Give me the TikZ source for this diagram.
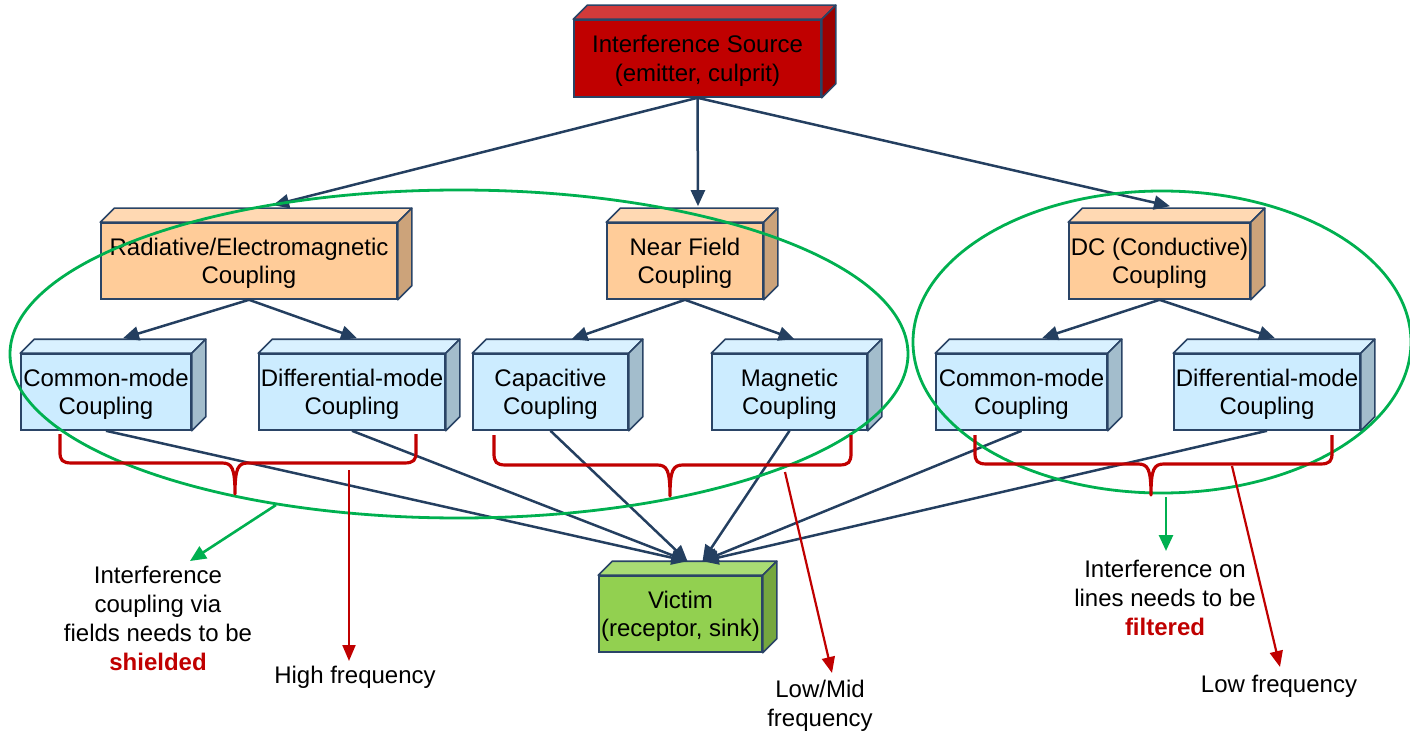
\documentclass[tikz,border=0pt]{standalone}
\usepackage{fontspec}
\setmainfont{Liberation Sans}
\usetikzlibrary{arrows.meta,calc}
\definecolor{bord}{HTML}{2A4466}
\definecolor{conn}{HTML}{243F60}
\definecolor{srcF}{HTML}{C00000}
\definecolor{srcT}{HTML}{D23A3A}
\definecolor{srcS}{HTML}{9C0000}
\definecolor{orF}{HTML}{FFCC99}
\definecolor{orT}{HTML}{FFD9B3}
\definecolor{orS}{HTML}{CCA37A}
\definecolor{blF}{HTML}{CCECFF}
\definecolor{blT}{HTML}{D9F1FF}
\definecolor{blS}{HTML}{A3BDCC}
\definecolor{vicF}{HTML}{92D050}
\definecolor{vicT}{HTML}{A9DC74}
\definecolor{vicS}{HTML}{75A73F}
\definecolor{grn}{HTML}{00B050}
\definecolor{rd}{HTML}{C00000}
\newcommand\boxfaces[3]{%
  \filldraw[fill=#2,draw=bord,line width=0.8pt,line join=round] (#1.north west) -- ++(14,-14) -- ($(#1.north east)+(14,-14)$) -- (#1.north east) -- cycle;
  \filldraw[fill=#3,draw=bord,line width=0.8pt,line join=round] (#1.north east) -- ++(14,-14) -- ($(#1.south east)+(14,-14)$) -- (#1.south east) -- cycle;
}
\tikzset{
  front/.style={draw=bord,line width=0.8pt,inner sep=0pt,align=center,minimum height=38pt,
    font=\fontsize{12}{14.3}\selectfont,text depth=0pt,yshift=0pt},
  conn/.style={draw=conn,line width=1.25pt,-{Triangle[length=8pt,width=7pt]}},
  redarr/.style={draw=rd,line width=1.1pt,-{Triangle[length=8pt,width=6.5pt]}},
  grnarr/.style={draw=grn,line width=1.3pt,-{Triangle[length=8pt,width=7pt]}},
  brace/.style={draw=rd,line width=1.6pt,line join=round},
  ring/.style={draw=grn,line width=1.4pt},
  lbl/.style={align=center,inner sep=0pt,font=\fontsize{12}{14.5}\selectfont}
}
\begin{document}
\begin{tikzpicture}[x=0.5pt,y=-0.5pt]
\useasboundingbox (0,0) rectangle (1410,733);
% boxes
\node[front,fill=srcF,minimum width=123.5pt,minimum height=38.5pt] (src) at (697.5,58.5) {Interference Source\\(emitter, culprit)};
\boxfaces{src}{srcT}{srcS}
\node[front,fill=orF,minimum width=148pt] (rad) at (249,261) {Radiative/Electromagnetic\\Coupling};
\boxfaces{rad}{orT}{orS}
\node[front,fill=orF,minimum width=78pt] (near) at (685,261) {Near Field\\Coupling};
\boxfaces{near}{orT}{orS}
\node[front,fill=orF,minimum width=90.5pt] (dc) at (1159.5,261) {DC (Conductive)\\Coupling};
\boxfaces{dc}{orT}{orS}
\node[front,fill=blF,minimum width=85pt] (cm1) at (106,392) {Common-mode\\Coupling};
\boxfaces{cm1}{blT}{blS}
\node[front,fill=blF,minimum width=93pt] (dm1) at (352,392) {Differential-mode\\Coupling};
\boxfaces{dm1}{blT}{blS}
\node[front,fill=blF,minimum width=77.5pt] (cap) at (550.5,392) {Capacitive\\Coupling};
\boxfaces{cap}{blT}{blS}
\node[front,fill=blF,minimum width=77.5pt] (mag) at (789.5,392) {Magnetic\\Coupling};
\boxfaces{mag}{blT}{blS}
\node[front,fill=blF,minimum width=85.5pt] (cm2) at (1021.5,392) {Common-mode\\Coupling};
\boxfaces{cm2}{blT}{blS}
\node[front,fill=blF,minimum width=93pt] (dm2) at (1267,392) {Differential-mode\\Coupling};
\boxfaces{dm2}{blT}{blS}
\node[front,fill=vicF,minimum width=81.5pt] (vic) at (680.5,614) {Victim\\(receptor, sink)};
\boxfaces{vic}{vicT}{vicS}
% connectors
\draw[conn] (src.south) -- ($(rad.north)+(24,-17)$);
\draw[conn] (src.south) -- ($(near.north)+(13,-16)$);
\draw[conn] (src.south) -- ($(dc.north)+(10.5,-16)$);
\draw[conn] (rad.south) -- ($(cm1.north)+(17,-15)$);
\draw[conn] (rad.south) -- ($(dm1.north)+(5,-15)$);
\draw[conn] (near.south) -- ($(cap.north)+(21,-14)$);
\draw[conn] (near.south) -- ($(mag.north)+(5,-14)$);
\draw[conn] (dc.south) -- ($(cm2.north)+(20.5,-15)$);
\draw[conn] (dc.south) -- ($(dm2.north)+(8,-15)$);
\draw[conn] (cm1.south) -- ($(vic.north)+(7,-14)$);
\draw[conn] (dm1.south) -- ($(vic.north)+(7,-14)$);
\draw[conn] (cap.south) -- ($(vic.north)+(7,-14)$);
\draw[conn] (mag.south) -- ($(vic.north)+(22,-14)$);
\draw[conn] (cm2.south) -- ($(vic.north)+(22,-14)$);
\draw[conn] (dm2.south) -- ($(vic.north)+(22,-14)$);
% green ellipses
\draw[ring] (459,354) ellipse [x radius=224.5pt, y radius=82pt];
\draw[ring] (1162,342) ellipse [x radius=124.5pt, y radius=75.5pt];
% braces
\draw[brace] (60,434) -- (60,452) .. controls (60,460) and (62,463) .. (72,463) -- (222,463)
  .. controls (232,463) and (235,468) .. (235,494) .. controls (235,468) and (238,463) .. (248,463)
  -- (404,463) .. controls (414,463) and (416,460) .. (416,452) -- (416,434);
\draw[brace] (494,435) -- (494,453) .. controls (494,462) and (496,465) .. (506,465) -- (657,465)
  .. controls (667,465) and (670,470) .. (670,496) .. controls (670,470) and (673,465) .. (683,465)
  -- (839,465) .. controls (849,465) and (851,462) .. (851,453) -- (851,435);
\draw[brace] (975,435) -- (975,453) .. controls (975,461) and (977,464) .. (987,464) -- (1138,464)
  .. controls (1148,464) and (1151,469) .. (1151,495) .. controls (1151,469) and (1154,464) .. (1164,464)
  -- (1320,464) .. controls (1330,464) and (1332,461) .. (1332,453) -- (1332,435);
% labels
\node[lbl] (shield) at (158,618.5) {Interference\\coupling via\\fields needs to be\\\textbf{\color{rd}shielded}};
\node[lbl] (hf) at (355,677) {High frequency};
\node[lbl] (lm) at (820,706) {Low/Mid\\frequency};
\node[lbl] (filt) at (1165,598) {Interference on\\lines needs to be\\\textbf{\color{rd}filtered}};
\node[lbl] (lf) at (1279,686) {Low frequency};
% coordinates for free ends
\coordinate (g1s) at (276,505);
\coordinate (g1e) at (190,561);
\coordinate (g2s) at (1166,497);
\coordinate (g2e) at (1166,551);
\coordinate (r1s) at (349,470);
\coordinate (r1e) at (349,661);
\coordinate (r2s) at (785,472);
\coordinate (r2e) at (832,673);
\coordinate (r3s) at (1232,466);
\coordinate (r3e) at (1280,667);
\draw[grnarr] (g1s) -- (g1e);
\draw[grnarr] (g2s) -- (g2e);
\draw[redarr] (r1s) -- (r1e);
\draw[redarr] (r2s) -- (r2e);
\draw[redarr] (r3s) -- (r3e);
\end{tikzpicture}
\end{document}
